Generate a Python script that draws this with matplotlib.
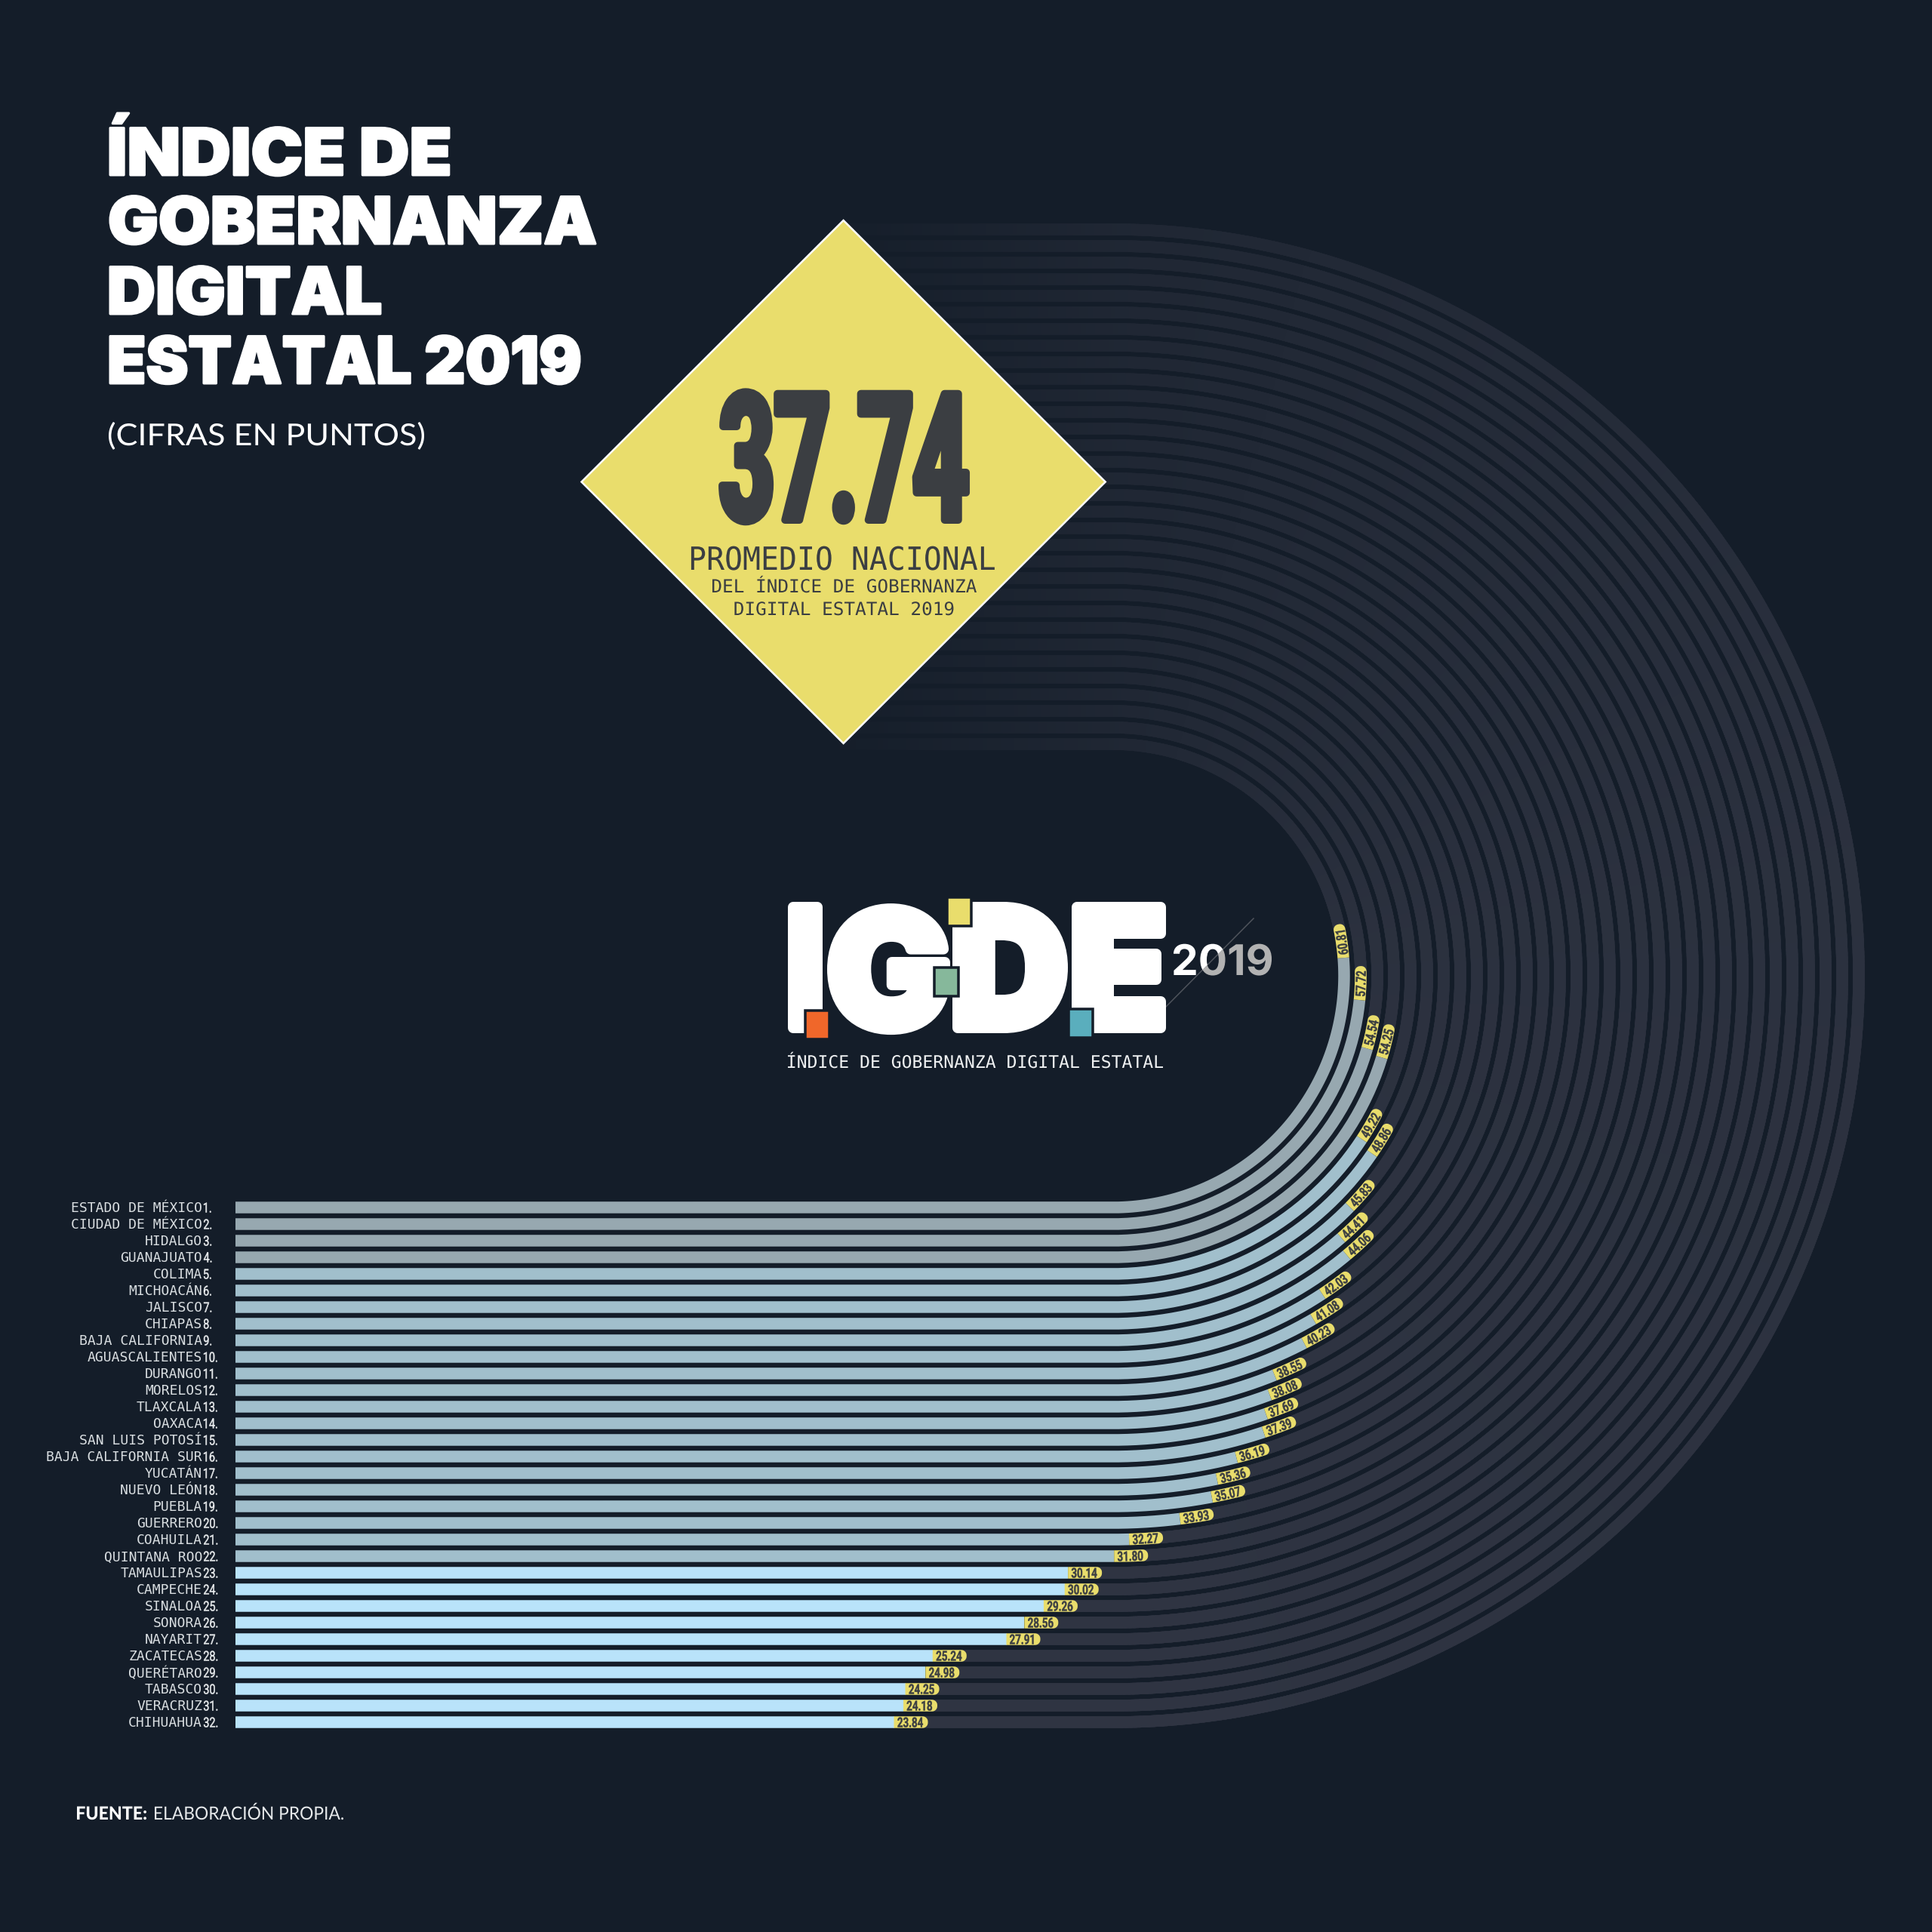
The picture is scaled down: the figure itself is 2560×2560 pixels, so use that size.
import numpy as np
import matplotlib
matplotlib.use('Agg')
import matplotlib.pyplot as plt
from matplotlib.collections import LineCollection
from matplotlib.patches import Polygon, Rectangle
from matplotlib.patheffects import AbstractPathEffect
from matplotlib.transforms import Affine2D

# data
states = ['ESTADO DE MÉXICO', 'CIUDAD DE MÉXICO', 'HIDALGO', 'GUANAJUATO', 'COLIMA', 'MICHOACÁN',
          'JALISCO', 'CHIAPAS', 'BAJA CALIFORNIA', 'AGUASCALIENTES', 'DURANGO', 'MORELOS',
          'TLAXCALA', 'OAXACA', 'SAN LUIS POTOSÍ', 'BAJA CALIFORNIA SUR', 'YUCATÁN', 'NUEVO LEÓN',
          'PUEBLA', 'GUERRERO', 'COAHUILA', 'QUINTANA ROO', 'TAMAULIPAS', 'CAMPECHE', 'SINALOA',
          'SONORA', 'NAYARIT', 'ZACATECAS', 'QUERÉTARO', 'TABASCO', 'VERACRUZ', 'CHIHUAHUA']
values = [60.81, 57.72, 54.54, 54.25, 49.22, 48.86, 45.83, 44.41, 44.06, 42.03, 41.08, 40.23,
          38.55, 38.08, 37.69, 37.39, 36.19, 35.36, 35.07, 33.93, 32.27, 31.80, 30.14, 30.02,
          29.26, 28.56, 27.91, 25.24, 24.98, 24.25, 24.18, 23.84]
promedio = 37.74
title_lines = ['ÍNDICE DE', 'GOBERNANZA', 'DIGITAL', 'ESTATAL 2019']

# colours
BG = '#141d29'
TRACK = np.array([47, 52, 66]) / 255
BG_RGB = np.array([20, 29, 41]) / 255
YELLOW = '#e9dd6c'
INK = '#3b3e42'
GRIS, AZUL, CELESTE = '#97a8b0', '#a1bfcc', '#b9e3fa'

# layout in pixels of the 2560 canvas
X0, CX, CY = 312, 1474, 1293
R0, PITCH, BAR_W = 307, 22, 15.5
PX_PER_POINT = 36.6
DEG_PER_POINT = 3.25
TAG_LEN = 45
TIP = 7
DPI = 250
L0 = CX - X0
V0 = L0 / PX_PER_POINT


class Fit(AbstractPathEffect):
    """Squeeze a text in its own coordinates: to a width/height in pixels or by a factor."""

    def __init__(self, width=None, height=None, sx=1, sy=1, pivot='center', bold=0):
        self.width, self.height, self.sx, self.sy = width, height, sx, sy
        self.pivot, self.bold = pivot, bold

    def draw_path(self, renderer, gc, tpath, affine, rgbFace=None):
        ext = tpath.get_extents()
        unit = np.sqrt(abs(np.linalg.det(affine.get_matrix()[:2, :2])))
        sx = self.width / (ext.width * unit) if self.width else self.sx
        sy = self.height / (ext.height * unit) if self.height else self.sy
        px = {'left': ext.x0, 'center': (ext.x0 + ext.x1) / 2, 'right': ext.x1}[self.pivot]
        # a left pivot also drops the side bearing, so the ink starts on the anchor
        back = 0 if self.pivot == 'left' else px
        local = Affine2D().translate(-px, 0).scale(sx, sy).translate(back, 0)
        gc0 = renderer.new_gc()
        gc0.copy_properties(gc)
        if self.bold:
            gc0.set_linewidth(self.bold * 72 / DPI)
            gc0.set_foreground(rgbFace)
        renderer.draw_path(gc0, tpath, local + affine, rgbFace)
        gc0.restore()


def along(r, s, off=0):
    # point on a track, s pixels from the left end, off pixels outwards
    s = np.asarray(s, dtype=float)
    ang = np.clip(s - L0, 0, None) / r
    x = np.where(s <= L0, X0 + s, CX + (r + off) * np.sin(ang))
    y = np.where(s <= L0, CY + r + off, CY + (r + off) * np.cos(ang))
    return x, y


def value_to_s(r, v):
    if v <= V0:
        return v * PX_PER_POINT
    return L0 + r * np.radians((v - V0) * DEG_PER_POINT)


def fade(r, s):
    # the background track gets fainter towards the diamond
    ang = np.degrees((s - L0) / r)
    top = s - (L0 + np.pi * r)
    w = np.interp(ang, [0, 100, 180], [1.0, 0.85, 0.42])
    w = np.where(top > 0, np.interp(top, [0, 357], [0.42, 0.05]), w)
    return w


def lw(px):
    return px * 72 / DPI


fig = plt.figure(figsize=(10.24, 10.24), dpi=DPI, facecolor=BG)
ax = fig.add_axes([0, 0, 1, 1])
ax.set_xlim(0, 2560)
ax.set_ylim(2560, 0)
ax.axis('off')

# bars, tracks, tags
for i, (state, v) in enumerate(zip(states, values)):
    r = R0 + PITCH * i
    s_end = value_to_s(r, v)
    y = CY + r

    # track
    s_full = L0 + np.pi * r + (CX - 1117)
    s = np.arange(s_end + 20, s_full, 6.0)
    xt, yt = along(r, s)
    top = s > L0 + np.pi * r
    xt = np.where(top, CX - (s - (L0 + np.pi * r)), xt)
    yt = np.where(top, CY - r, yt)
    pts = np.column_stack([xt, yt])
    segs = np.stack([pts[:-1], pts[1:]], axis=1)
    w = fade(r, s[:-1])[:, None]
    cols = TRACK * w + BG_RGB * (1 - w)
    ax.add_collection(LineCollection(segs, colors=cols, linewidths=lw(BAR_W), capstyle='projecting', zorder=1))

    # bar
    colour = GRIS if i < 4 else AZUL if i < 22 else CELESTE
    sb = np.append(np.arange(0, s_end, 6.0), s_end)
    xb, yb = along(r, sb)
    ax.plot(xb, yb, color=colour, lw=lw(BAR_W), solid_capstyle='butt', zorder=2)

    # tag with a rounded tip
    t = np.linspace(0, TAG_LEN - TIP, 14)
    h = BAR_W / 2
    phi = np.linspace(0, np.pi / 2, 8)
    tip_s = TAG_LEN - TIP + TIP * np.sin(phi)
    tip_o = h - TIP + TIP * np.cos(phi)
    ss = np.concatenate([t, tip_s, tip_s[::-1], t[::-1]]) + s_end
    oo = np.concatenate([np.full_like(t, h), tip_o, -tip_o[::-1], np.full_like(t, -h)])
    ang = np.clip(ss - L0, 0, None) / r
    xp = np.where(ss <= L0, X0 + ss, CX + (r + oo) * np.sin(ang))
    yp = np.where(ss <= L0, CY + r + oo, CY + (r + oo) * np.cos(ang))
    ax.add_patch(Polygon(np.column_stack([xp, yp]), closed=True, fc=YELLOW, ec='none', zorder=3))

    sc = s_end + TAG_LEN / 2 - 1
    xa, ya = along(r, sc, 6.5)
    rot = np.degrees(max(sc - L0, 0) / r)
    ax.text(xa, ya, f'{v:.2f}', color=INK, fontsize=lw(18), family='Roboto', fontweight='bold',
            rotation=rot, rotation_mode='anchor', ha='center', va='baseline', zorder=4,
            path_effects=[Fit(sx=0.74, bold=0.4)])

    # row labels
    ax.text(268, y + 6.5, state, color='#d9dee1', fontsize=lw(18), family='DejaVu Sans Mono',
            ha='right', va='baseline', zorder=4)
    ax.text(270, y + 6.5, f'{i + 1}.', color='#e6e9eb', fontsize=lw(18), family='Roboto',
            ha='left', va='baseline', zorder=4, path_effects=[Fit(sx=0.8, pivot='left', bold=0.5)])

# title
title_base = [232, 323, 416, 508]
title_w = [449, 643, 358, 622]
for line, yb, wd in zip(title_lines, title_base, title_w):
    ax.text(146, yb, line, color='white', fontsize=lw(86), family='Inter', fontweight='black',
            ha='left', va='baseline', zorder=5, path_effects=[Fit(width=wd, pivot='left', bold=3)])
ax.text(144, 590, '(CIFRAS EN PUNTOS)', color='white', fontsize=lw(40), family='Lato',
        ha='left', va='baseline', zorder=5, path_effects=[Fit(width=418, pivot='left')])

# diamond
ax.add_patch(Polygon([(770.5, 638.5), (1117.6, 292), (1464.7, 638.5), (1117.6, 985)], closed=True,
                     fc=YELLOW, ec='white', lw=lw(2.5), zorder=5))
ax.text(1118, 689, f'{promedio:.2f}', color=INK, fontsize=lw(250), family=['Liberation Sans Narrow', 'Roboto'],
        fontweight='bold', ha='center', va='baseline', zorder=6,
        path_effects=[Fit(width=323, height=172, bold=10)])
ax.text(1116, 755, 'PROMEDIO NACIONAL', color=INK, fontsize=lw(26), family='DejaVu Sans Mono',
        ha='center', va='baseline', zorder=6, path_effects=[Fit(width=402, height=32)])
ax.text(1118, 785, 'DEL ÍNDICE DE GOBERNANZA', color=INK, fontsize=lw(20), family='DejaVu Sans Mono',
        ha='center', va='baseline', zorder=6, path_effects=[Fit(width=350, sy=1.2)])
ax.text(1118, 815, 'DIGITAL ESTATAL 2019', color=INK, fontsize=lw(20), family='DejaVu Sans Mono',
        ha='center', va='baseline', zorder=6, path_effects=[Fit(width=290, sy=1.2)])

# logo
logo = [('I', 1051, 32), ('G', 1103, 149), ('D', 1269, 139), ('E', 1427, 111)]
for letter, xl, wd in logo:
    ax.text(xl, 1362, letter, color='white', fontsize=lw(130), family='Inter', fontweight='black',
            ha='left', va='baseline', zorder=6, path_effects=[Fit(width=wd, height=160, pivot='left', bold=14)])
squares = [(1067, 1339, '#f0672a'), (1255, 1189, '#e9dd6c'), (1238, 1282, '#86b89b'), (1415.5, 1337, '#5aaebd')]
for xs, ys, c in squares:
    ax.add_patch(Rectangle((xs, ys), 32, 38, fc=c, ec=BG, lw=lw(3.5), zorder=7))

ax.plot([1542, 1661], [1337, 1217], color='#4f545c', lw=lw(1.5), zorder=5)
left_part = Polygon([(1500, 1400), (1542, 1337), (1661, 1217), (1500, 1217)], closed=True, transform=ax.transData)
right_part = Polygon([(1542, 1337), (1661, 1217), (1720, 1217), (1720, 1337)], closed=True, transform=ax.transData)
for part, c in [(left_part, 'white'), (right_part, '#b2b2b2')]:
    tx = ax.text(1555, 1292, '2019', color=c, fontsize=lw(56), family='Inter', fontweight='bold',
                 ha='left', va='baseline', zorder=6, path_effects=[Fit(width=130, pivot='left')])
    tx.set_clip_path(part)
    tx.set_clip_on(True)

ax.text(1044, 1415, 'ÍNDICE DE GOBERNANZA DIGITAL ESTATAL', color='#eef0f1', fontsize=lw(23),
        family='DejaVu Sans Mono', ha='left', va='baseline', zorder=6,
        path_effects=[Fit(width=497, pivot='left')])

# footer
ax.text(102, 2411, 'FUENTE:', color='white', fontsize=lw(24), family='Lato', fontweight='black',
        ha='left', va='baseline', zorder=5, path_effects=[Fit(width=92, pivot='left')])
ax.text(205, 2411, 'ELABORACIÓN PROPIA.', color='#e6e9eb', fontsize=lw(24), family='Lato',
        ha='left', va='baseline', zorder=5, path_effects=[Fit(width=250, pivot='left')])

fig.savefig('out.png', dpi=DPI, facecolor=BG)
